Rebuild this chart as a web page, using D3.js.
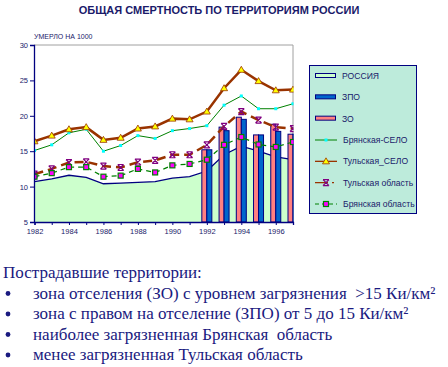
<!DOCTYPE html>
<html>
<head>
<meta charset="utf-8">
<script src="https://cdn.jsdelivr.net/npm/d3@7"></script>
<style>
body { margin: 0; background: #fff; }
svg { display: block; }
text { white-space: pre; }
</style>
</head>
<body>
<div id="chart"></div>
<script>
var years = [1982, 1983, 1984, 1985, 1986, 1987, 1988, 1989, 1990, 1991, 1992, 1993, 1994, 1995, 1996, 1997];
var russia = [10.7, 11.1, 11.6, 11.3, 10.4, 10.5, 10.6, 10.7, 11.2, 11.4, 12.2, 14.5, 15.7, 15.0, 14.2, 13.8];
var bryanskSelo = [15.1, 15.9, 17.6, 18.1, 15.0, 15.8, 17.2, 16.8, 17.9, 18.2, 18.6, 21.5, 22.8, 21.0, 21.0, 21.7];
var tulaSelo = [16.4, 17.2, 18.1, 18.4, 16.6, 16.9, 18.2, 18.5, 19.6, 19.5, 20.6, 23.9, 26.5, 24.9, 23.6, 23.7];
var tulaObl = [11.75, 12.5, 13.4, 13.5, 12.9, 12.7, 13.45, 13.7, 14.5, 14.5, 15.9, 18.5, 20.6, 19.4, 18.4, 18.2];
var bryanskObl = [11.4, 11.9, 12.75, 12.75, 11.4, 11.55, 12.5, 12.0, 13.0, 13.2, 13.8, 15.9, 17.0, 15.95, 15.6, 16.3];
var barYears = [1992, 1993, 1994, 1995, 1996, 1997];
var zo = [15.2, 18.4, 19.8, 17.3, 18.8, 17.4];
var zpo = [15.2, 17.9, 19.5, 17.3, 17.8, 17.4];
var yTicks = [5, 10, 15, 20, 25, 30];
var xTicks = [1982, 1984, 1986, 1988, 1990, 1992, 1994, 1996];
var legendNames = ["РОССИЯ", "ЗПО", "ЗО", "Брянская-СЕЛО", "Тульская_СЕЛО", "Тульская область", "Брянская область"];
var notes = [
  "зона отселения (ЗО) с уровнем загрязнения  >15 Ки/км²",
  "зона с правом на отселение (ЗПО) от 5 до 15 Ки/км²",
  "наиболее загрязненная Брянская  область",
  "менее загрязненная Тульская область"
];

var w = 448, h = 367;
var navy = "#000080", txt = "#1a1a6a";
var svg = d3.select("#chart").append("svg").attr("width", w).attr("height", h);

var x = d3.scaleLinear().domain([1982, 1997]).range([34.5, 293]);
var y = d3.scaleLinear().domain([5, 30]).range([222, 45]);

// title
svg.append("text").attr("x", 219).attr("y", 14).attr("text-anchor", "middle")
  .attr("font-family", "Liberation Sans, Arial, sans-serif").attr("font-size", 11)
  .attr("font-weight", "bold").attr("fill", txt)
  .text("ОБЩАЯ СМЕРТНОСТЬ ПО ТЕРРИТОРИЯМ РОССИИ");
svg.append("text").attr("x", 34).attr("y", 39)
  .attr("font-family", "Liberation Sans, Arial, sans-serif").attr("font-size", 7)
  .attr("fill", txt).text("УМЕРЛО НА 1000");

svg.append("clipPath").attr("id", "plot").append("rect")
  .attr("x", 34).attr("y", 40).attr("width", 259.5).attr("height", 183);

// frame (grey top and right)
svg.append("path").attr("d", "M34," + y(30) + "H293V222")
  .attr("fill", "none").attr("stroke", "#a0a0a0").attr("stroke-width", 1);

var g = svg.append("g").attr("clip-path", "url(#plot)");

// Russia area
g.append("path").datum(years)
  .attr("fill", "#ccffcc")
  .attr("d", d3.area().x(function (d) { return x(d); }).y0(y(5))
    .y1(function (d, i) { return y(russia[i]); }));
g.append("path").datum(years)
  .attr("fill", "none").attr("stroke", navy).attr("stroke-width", 1.3)
  .attr("d", d3.line().x(function (d) { return x(d); }).y(function (d, i) { return y(russia[i]); }));

// bars
var bw = 5;
g.selectAll("rect.zo").data(barYears).enter().append("rect")
  .attr("x", function (d) { return x(d) - bw; })
  .attr("y", function (d, i) { return y(zo[i]); })
  .attr("width", bw).attr("height", function (d, i) { return y(5) - y(zo[i]); })
  .attr("fill", "#ff8080").attr("stroke", navy).attr("stroke-width", 1);
g.selectAll("rect.zpo").data(barYears).enter().append("rect")
  .attr("x", function (d) { return x(d); })
  .attr("y", function (d, i) { return y(zpo[i]); })
  .attr("width", bw).attr("height", function (d, i) { return y(5) - y(zpo[i]); })
  .attr("fill", "#0066cc").attr("stroke", navy).attr("stroke-width", 1);

function lineOf(vals) {
  return d3.line().x(function (d) { return x(d); }).y(function (d, i) { return y(vals[i]); })(years);
}

var series = [
  { vals: bryanskSelo, stroke: "#008000", sw: 1, dash: null, marker: "cyan" },
  { vals: tulaSelo, stroke: "#993300", sw: 2.5, dash: null, marker: "tri" },
  { vals: tulaObl, stroke: "#993300", sw: 2.5, dash: "9,5", marker: "star" },
  { vals: bryanskObl, stroke: "#008000", sw: 1.2, dash: "5,4", marker: "sq" }
];

function drawMarker(sel, type, cx, cy) {
  if (type === "cyan") {
    sel.append("rect").attr("x", cx - 1.5).attr("y", cy - 1.5).attr("width", 3).attr("height", 3)
      .attr("fill", "#00ffff");
  } else if (type === "tri") {
    sel.append("path").attr("d", "M" + cx + "," + (cy - 3.5) + "L" + (cx + 3.5) + "," + (cy + 2.5) + "L" + (cx - 3.5) + "," + (cy + 2.5) + "Z")
      .attr("fill", "#ffff00").attr("stroke", "#993300").attr("stroke-width", 0.8);
  } else if (type === "star") {
    sel.append("path").attr("d", "M" + (cx - 3) + "," + (cy - 3) + "L" + (cx + 3) + "," + (cy + 3) +
      "M" + (cx + 3) + "," + (cy - 3) + "L" + (cx - 3) + "," + (cy + 3) +
      "M" + (cx - 3) + "," + (cy - 3) + "H" + (cx + 3) + "M" + (cx - 3) + "," + (cy + 3) + "H" + (cx + 3))
      .attr("fill", "none").attr("stroke", "#800080").attr("stroke-width", 1.2);
  } else if (type === "sq") {
    sel.append("rect").attr("x", cx - 2.5).attr("y", cy - 2.5).attr("width", 5).attr("height", 5)
      .attr("fill", "#ff00ff").attr("stroke", "#008000").attr("stroke-width", 1.2);
  }
}

series.forEach(function (s) {
  g.append("path").attr("d", lineOf(s.vals)).attr("fill", "none")
    .attr("stroke", s.stroke).attr("stroke-width", s.sw)
    .attr("stroke-dasharray", s.dash);
});
series.forEach(function (s) {
  var mg = g.append("g");
  years.forEach(function (yr, i) { drawMarker(mg, s.marker, x(yr), y(s.vals[i])); });
});

// axes
var yAxis = svg.append("g").attr("transform", "translate(34,0)")
  .call(d3.axisLeft(y).tickValues(yTicks).tickSize(4).tickPadding(2));
var xAxis = svg.append("g").attr("transform", "translate(0,222)")
  .call(d3.axisBottom(x).tickValues(years).tickSize(3).tickPadding(4)
    .tickFormat(function (d) { return xTicks.indexOf(d) >= 0 ? d : ""; }));
[yAxis, xAxis].forEach(function (a) {
  a.select(".domain").attr("stroke", navy).attr("stroke-width", 1.3);
  a.selectAll(".tick line").attr("stroke", navy);
  a.selectAll("text").attr("fill", txt).attr("font-size", 7.5)
    .attr("font-family", "Liberation Sans, Arial, sans-serif");
});

// legend
var lg = svg.append("g");
lg.append("rect").attr("x", 309.5).attr("y", 65.5).attr("width", 107).attr("height", 148)
  .attr("fill", "#bdebdb").attr("stroke", navy).attr("stroke-width", 1);
var legendY = d3.scalePoint().domain(legendNames).range([76, 204]);
var boxFills = ["#ccffcc", "#0066cc", "#ff8080"];
legendNames.forEach(function (n, i) {
  var ly = legendY(n);
  if (i < 3) {
    lg.append("rect").attr("x", 315.5).attr("y", ly - 2.5).attr("width", 20).attr("height", 4)
      .attr("fill", boxFills[i]).attr("stroke", navy).attr("stroke-width", 1);
  } else {
    var s = series[i - 3];
    lg.append("line").attr("x1", 315).attr("x2", 337).attr("y1", ly).attr("y2", ly)
      .attr("stroke", s.stroke).attr("stroke-width", s.sw > 2 ? 1.3 : 1)
      .attr("stroke-dasharray", s.dash ? (i === 5 ? "13,4,2,10" : "4,3") : null);
    drawMarker(lg, s.marker, 326, ly);
  }
  lg.append("text").attr("x", i < 3 ? 342 : 343).attr("y", ly + 3)
    .attr("font-family", "Liberation Sans, Arial, sans-serif").attr("font-size", 8.6)
    .attr("fill", txt).text(n);
});

// notes
var tg = svg.append("g").attr("font-family", "Liberation Serif, Times New Roman, serif")
  .attr("font-size", 17).attr("fill", "#1a1a80");
tg.append("text").attr("x", 3).attr("y", 278).text("Пострадавшие территории:");
notes.forEach(function (n, i) {
  var by = 298.5 + i * 20.5;
  tg.append("circle").attr("cx", 8).attr("cy", by - 5).attr("r", 2.4).attr("fill", "#1a1a80");
  tg.append("text").attr("x", 33).attr("y", by).text(n);
});
</script>
</body>
</html>
